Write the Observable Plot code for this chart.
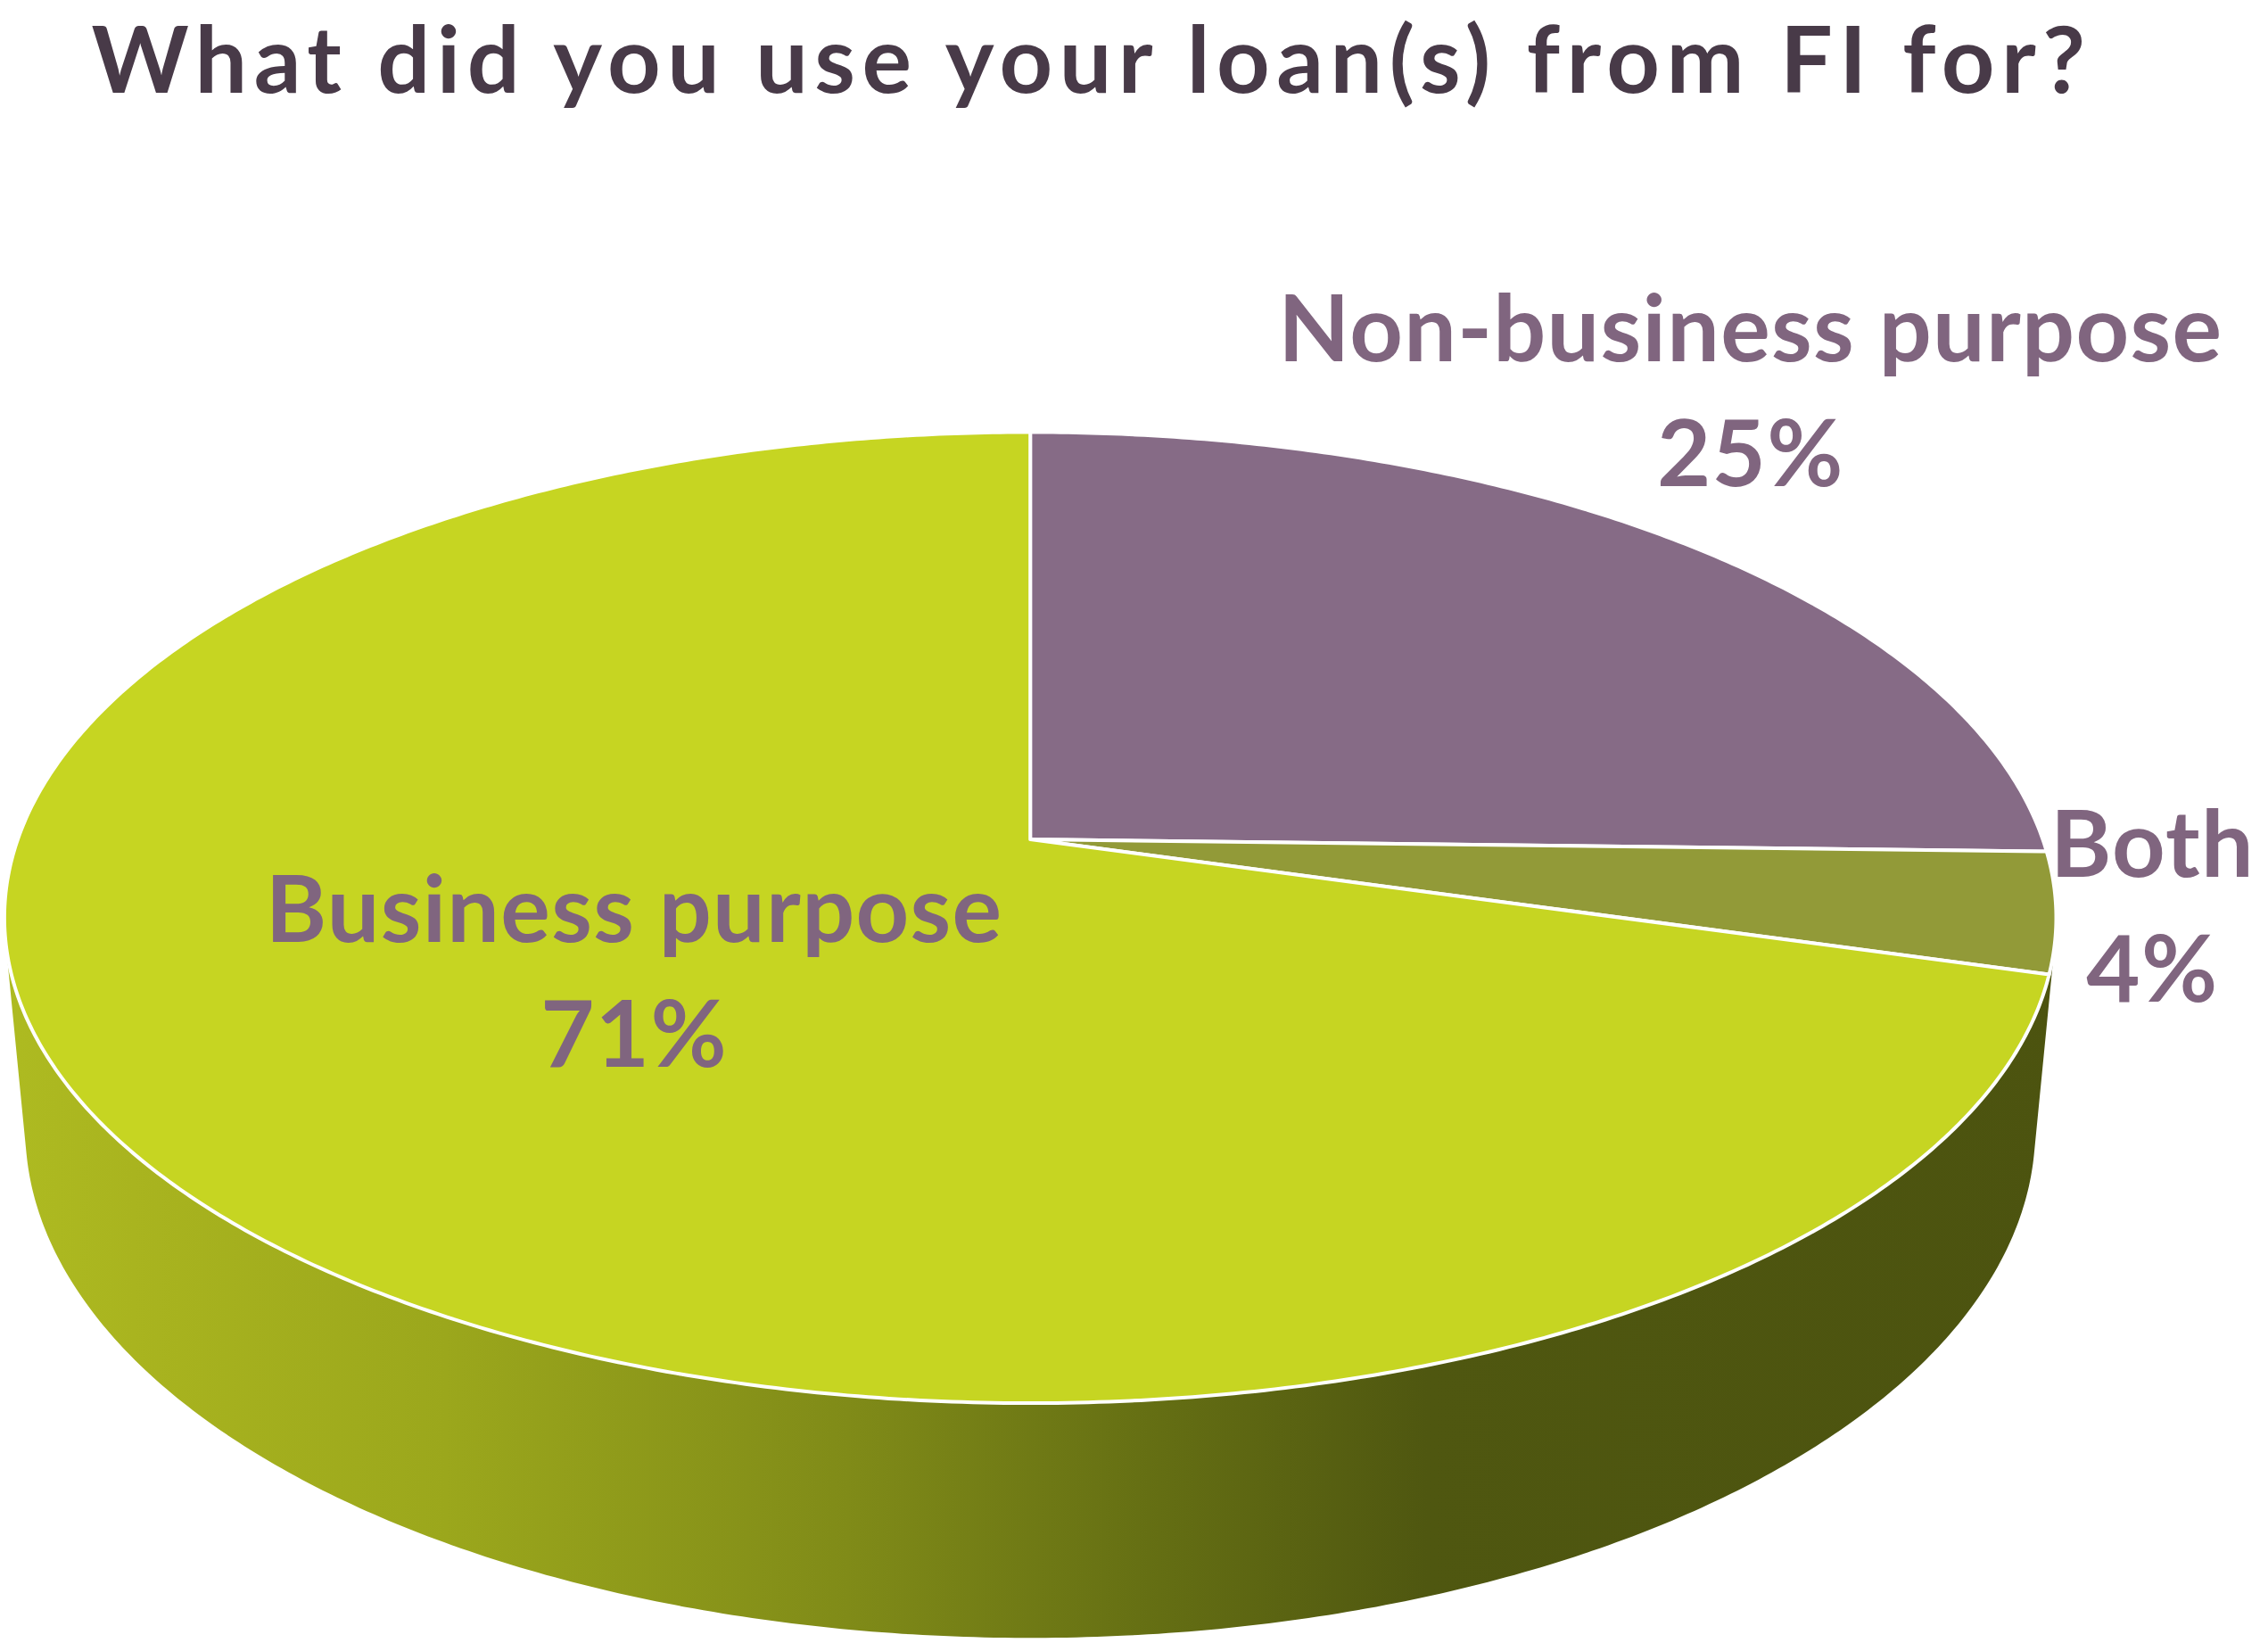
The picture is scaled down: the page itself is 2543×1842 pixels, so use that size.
<!DOCTYPE html>
<html>
<head>
<meta charset="utf-8">
<script src="https://cdn.jsdelivr.net/npm/d3@7"></script>
<script src="https://cdn.jsdelivr.net/npm/@observablehq/plot@0.6"></script>
<style>
  body { margin: 0; background: #ffffff; }
  svg { display: block; }
</style>
</head>
<body>
<div id="chart"></div>
<script>
// ---- data ----
const title = "What did you use your loan(s) from FI for?";
const categories = ["Non-business purpose", "Both", "Business purpose"];
const values = [25.4, 4.0, 70.6];
const valueLabels = ["25%", "4%", "71%"];

// ---- styles ----
const topColors = ["#866b86", "#929a38", "#c6d522"];
const labelColor = "#80657f";
const titleColor = "#483a48";
const FONT = "Lato, 'Open Sans', sans-serif";
const W = 2543, H = 1842;
const labelFontSize = 104;
const titleFontSize = 104;
const lineGap = 140;
// label placement relative to each slice's mid-angle (radius fraction, pixel offsets)
const labelLayout = [
  {r: 1.0, dx: 77, dy: -63},
  {r: 1.0, dx: 108, dy: 100},
  {r: 0.6, dx: 133, dy: 51}
];
const sideStops = [
  [0, "#aebb21"], [150, "#a9b41f"], [500, "#9ba71c"], [950, "#808b18"],
  [1300, "#646e13"], [1600, "#4f5710"], [2543, "#4b520f"]
];

// ---- 3D perspective view ----
const view = {cx: 1154.7, cy: 940.6, A: 1135.3, d: 5.49, phi: Math.asin(0.467), t: 0.238};
function project(theta, r, h) {
  const u = r * Math.sin(theta), yb = r * Math.cos(theta), z = -h * view.t;
  const s = Math.sin(view.phi), c = Math.cos(view.phi);
  const yc = yb * s + z * c;
  const zc = yb * c - z * s + view.d;
  return {x: view.d * u / zc, y: view.d * yc / zc};
}

const arcs = d3.pie().sort(null).value(d => d)(values);
const step = Math.PI / 360;

function arcPoints(a0, a1, r, h) {
  const n = Math.max(2, Math.ceil(Math.abs(a1 - a0) / step));
  const pts = [];
  for (let i = 0; i <= n; i++) pts.push(project(a0 + (a1 - a0) * i / n, r, h));
  return pts;
}

// top faces
const topRows = [];
arcs.forEach((a, i) => {
  const c = project(0, 0, 0);
  const pts = [c, ...arcPoints(a.startAngle, a.endAngle, 1, 0), c];
  pts.forEach(p => topRows.push({cat: categories[i], x: p.x, y: p.y}));
});

// visible side (front)
const v0 = 1 / (view.d * Math.cos(view.phi));
const th1 = Math.PI / 2 + Math.asin(v0), th2 = 3 * Math.PI / 2 - Math.asin(v0);
const sidePts = [...arcPoints(th1, th2, 1, 0), ...arcPoints(th2, th1, 1, 1)];
sidePts.push(sidePts[0]);
const sideRows = sidePts.map(p => ({x: p.x, y: p.y}));

// labels
const labelRows = arcs.map((a, i) => {
  const mid = (a.startAngle + a.endAngle) / 2;
  const L = labelLayout[i];
  const p = project(mid, L.r, 0);
  return {x: p.x + L.dx / view.A, y: p.y - L.dy / view.A, text: categories[i] + "\n" + valueLabels[i]};
});

const svg = Plot.plot({
  width: W,
  height: H,
  margin: 0,
  style: {fontFamily: FONT, background: "#ffffff"},
  x: {domain: [-1, 1], range: [view.cx - view.A, view.cx + view.A], axis: null},
  y: {domain: [-1, 1], range: [view.cy + view.A, view.cy - view.A], axis: null},
  color: {domain: categories, range: topColors},
  marks: [
    Plot.line(sideRows, {x: "x", y: "y", fill: "url(#sideGrad)", stroke: "none"}),
    Plot.line(topRows, {x: "x", y: "y", z: "cat", fill: "cat", stroke: "white", strokeWidth: 4, strokeLinejoin: "round"}),
    Plot.text(labelRows, {x: "x", y: "y", text: "text", lineAnchor: "bottom", lineHeight: lineGap / labelFontSize,
      textAnchor: "middle", fontSize: labelFontSize, fontWeight: "bold", fill: labelColor, fontFamily: FONT,
      className: "slice-label"}),
    Plot.text([title], {text: d => d, frameAnchor: "top-left", dx: 102, dy: 103, lineAnchor: "bottom",
      fontSize: titleFontSize, fontWeight: "bold", fill: titleColor, fontFamily: FONT, className: "chart-title"})
  ]
});

const defs = d3.select(svg).insert("defs", ":first-child");
const grad = defs.append("linearGradient").attr("id", "sideGrad")
  .attr("gradientUnits", "userSpaceOnUse").attr("x1", 0).attr("x2", W).attr("y1", 0).attr("y2", 0);
sideStops.forEach(([x, c]) => grad.append("stop").attr("offset", x / W).attr("stop-color", c));

d3.select(svg).selectAll(".slice-label text").style("letter-spacing", "1.3px");
d3.select(svg).selectAll(".chart-title text").style("letter-spacing", "7.5px");

document.getElementById("chart").appendChild(svg);
</script>
</body>
</html>
